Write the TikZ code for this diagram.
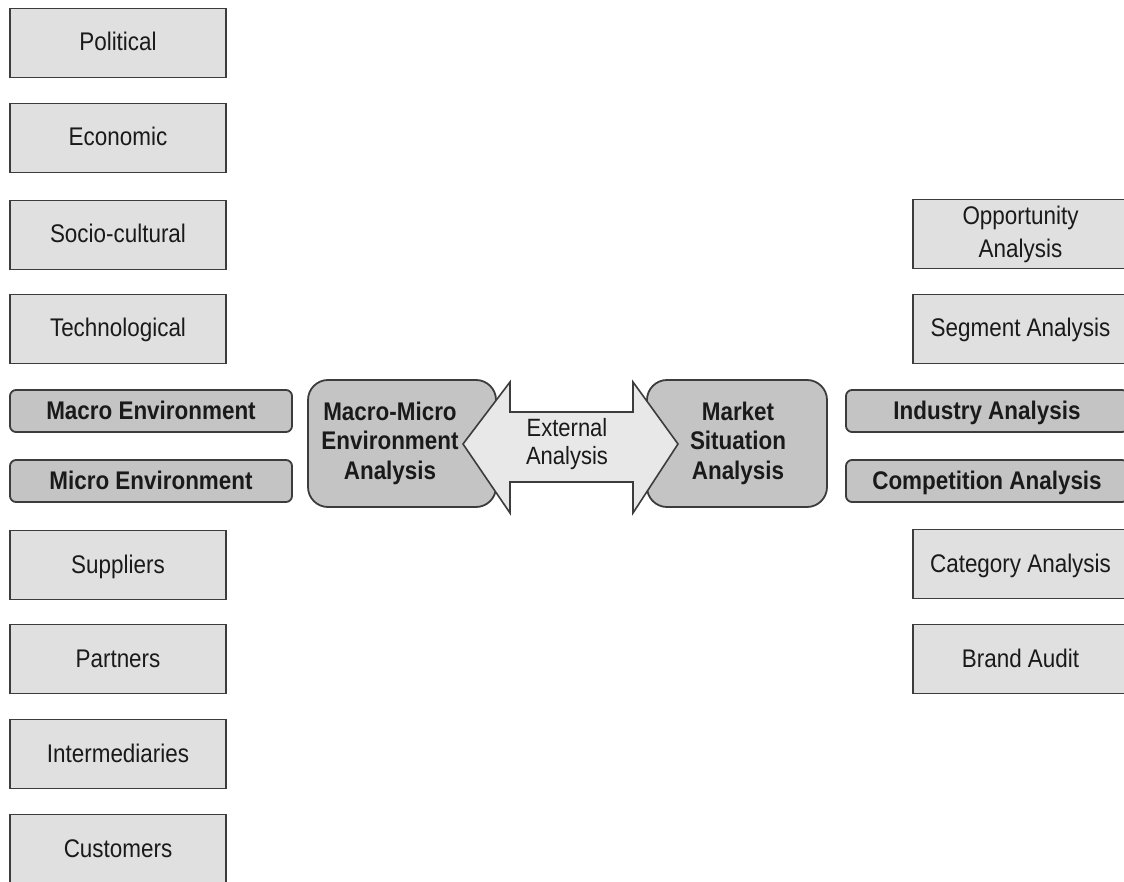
\documentclass[tikz,border=0pt]{standalone}
\usepackage{fontspec}
\setmainfont[FakeStretch=0.88]{Liberation Sans}
\definecolor{edge}{HTML}{3C3C3C}
\definecolor{lightbox}{HTML}{E0E0E0}
\definecolor{darkbox}{HTML}{C4C4C4}
\definecolor{arrowfill}{HTML}{E8E8E8}
\definecolor{ink}{HTML}{1A1A1A}
\begin{document}
\begin{tikzpicture}[x=1pt,y=-1pt,
  every node/.style={text=ink, font=\fontsize{25.5}{29.5}\selectfont, inner sep=0pt},
  oneline/.style={text height=18.3pt, text depth=2.3pt},
  factor/.style={draw=edge, fill=lightbox, line width=1.8pt, minimum width=216pt, minimum height=69pt, align=center},
  rfactor/.style={factor, minimum width=215pt},
  headbox/.style={oneline, draw=edge, fill=darkbox, line width=1.8pt, rounded corners=6pt, minimum height=42pt, font=\fontsize{25.5}{29.5}\selectfont\bfseries},
  hub/.style={draw=edge, fill=darkbox, line width=1.8pt, rounded corners=20pt},
  hubtext/.style={align=center, font=\fontsize{25.5}{29.5}\selectfont\bfseries}
]
\useasboundingbox (0,0) rectangle (1124,882);

% left column: macro and micro factors
\node[factor, oneline] (pol)  at (118,43)  {Political};
\node[factor, oneline] (eco)  at (118,138) {Economic};
\node[factor, oneline] (soc)  at (118,235) {Socio-cultural};
\node[factor, oneline] (tech) at (118,329) {Technological};
\node[headbox, minimum width=282pt] (macro) at (151,411) {Macro Environment};
\node[headbox, minimum width=282pt] (micro) at (151,481) {Micro Environment};
\node[factor, oneline] (sup)  at (118,565) {Suppliers};
\node[factor, oneline] (par)  at (118,659) {Partners};
\node[factor, oneline] (int)  at (118,754) {Intermediaries};
\node[factor, oneline] (cus)  at (118,849) {Customers};

% right column: market factors
\node[rfactor, font=\fontsize{25.5}{33}\selectfont] (opp) at (1020.5,234) {Opportunity\\Analysis};
\node[rfactor, oneline] (seg) at (1020.5,329) {Segment Analysis};
\node[headbox, minimum width=282pt] (ind) at (987,411) {Industry Analysis};
\node[headbox, minimum width=282pt] (comp) at (987,481) {Competition Analysis};
\node[rfactor, oneline] (cat) at (1020.5,564) {Category Analysis};
\node[rfactor, oneline] (brand) at (1020.5,659) {Brand Audit};

% central hubs
\draw[hub] (308,380) rectangle (496,507);
\draw[hub] (647,380) rectangle (827,507);
\node[hubtext] (mm) at (390,443) {Macro-Micro\\Environment\\Analysis};
\node[hubtext] (ms) at (738,443) {Market\\Situation\\Analysis};

% double-headed arrow between the hubs
\filldraw[draw=edge, fill=arrowfill, line width=1.6pt, line join=miter]
  (463,444) -- (510,382) -- (510,412) -- (633,412) -- (633,382) -- (678,444)
  -- (633,513) -- (633,482) -- (510,482) -- (510,513) -- cycle;
\node[align=center, font=\fontsize{25}{28}\selectfont] (ext) at (567,444) {External\\Analysis};
\end{tikzpicture}
\end{document}
